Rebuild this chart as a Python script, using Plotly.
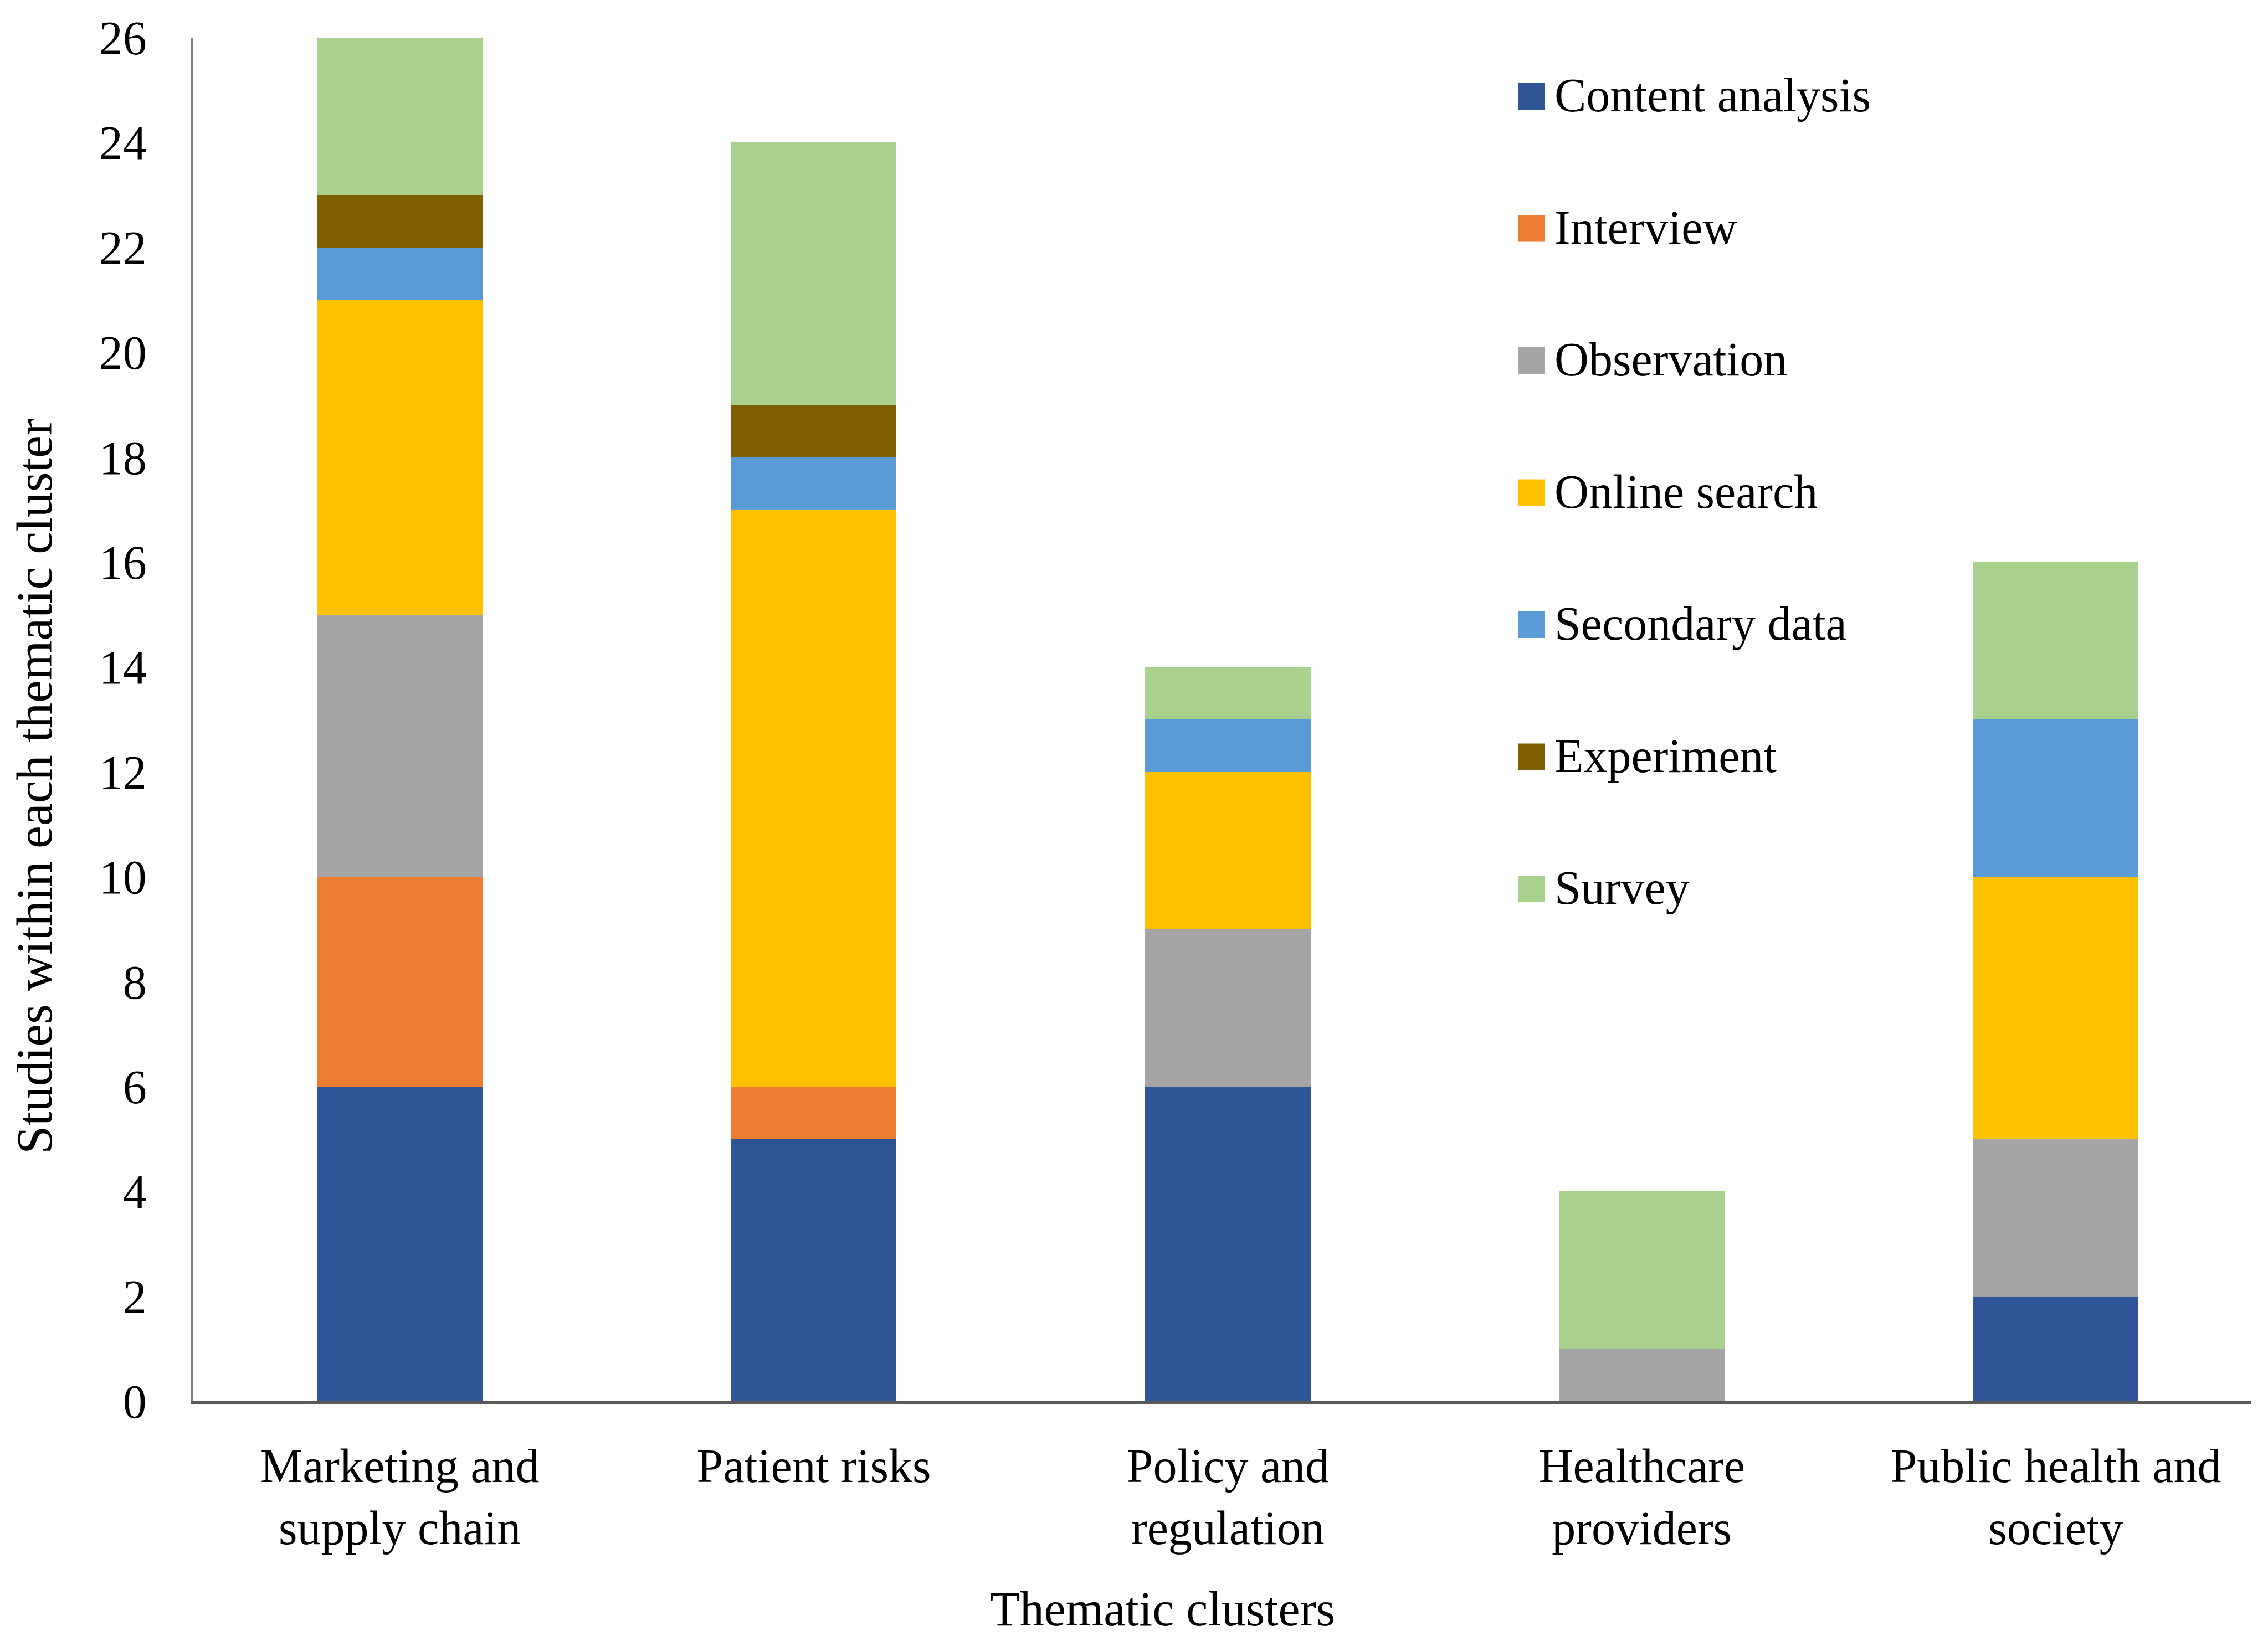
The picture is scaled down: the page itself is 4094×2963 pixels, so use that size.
import plotly.graph_objects as go

# ---- data ----
categories = ["Marketing and<br>supply chain", "Patient risks", "Policy and<br>regulation",
              "Healthcare<br>providers", "Public health and<br>society"]
methods = ["Content analysis", "Interview", "Observation", "Online search",
           "Secondary data", "Experiment", "Survey"]
content_analysis = [6, 5, 6, 0, 2]
interview = [4, 1, 0, 0, 0]
observation = [5, 0, 3, 1, 3]
online_search = [6, 11, 3, 0, 5]
secondary_data = [1, 1, 1, 0, 3]
experiment = [1, 1, 0, 0, 0]
survey = [3, 5, 1, 3, 3]
series = [content_analysis, interview, observation, online_search,
          secondary_data, experiment, survey]
colors = ["#2F5597", "#ED7D31", "#A5A5A5", "#FFC000", "#5B9BD5", "#7F6000", "#A9D18E"]
y_ticks = list(range(0, 27, 2))

# ---- layout constants (page pixels) ----
OFF = 8  # default page body margin
W, H = 4094 - OFF, 2963 - OFF
L, R, T, B = 348, 4063, 68, 2530  # plot area in page pixels
FONT = "Palatino Linotype, Book Antiqua, Palatino, Liberation Serif, serif"
FS = 86


def px_x(p):
    return (p - L) / (R - L)


def px_y(p):
    return (B - p) / (B - T)


fig = go.Figure()
for name, vals, col in zip(methods, series, colors):
    fig.add_trace(go.Bar(x=categories, y=vals, name=name,
                         marker=dict(color=col, line=dict(width=0)),
                         showlegend=False))

# legend drawn manually (large square swatches)
shapes = []
annotations = []
leg_y0 = 174
leg_step = 238.5
for i, (name, col) in enumerate(zip(methods, colors)):
    cy = leg_y0 + i * leg_step
    shapes.append(dict(type="rect", xref="paper", yref="paper",
                       x0=px_x(2740), x1=px_x(2788),
                       y0=px_y(cy + 24), y1=px_y(cy - 24),
                       fillcolor=col, line=dict(width=0)))
    annotations.append(dict(text=name, xref="paper", yref="paper",
                            x=px_x(2804), y=px_y(cy - 2), xanchor="left", yanchor="middle",
                            showarrow=False, font=dict(family=FONT, size=FS, color="#000000")))

# axis titles
annotations.append(dict(text="Thematic clusters", xref="paper", yref="paper",
                        x=px_x(2098), y=px_y(2905), xanchor="center", yanchor="middle",
                        showarrow=False, font=dict(family=FONT, size=FS + 2, color="#000000")))
annotations.append(dict(text="Studies within each thematic cluster", xref="paper", yref="paper",
                        x=px_x(62), y=px_y(1420), xanchor="center", yanchor="middle",
                        textangle=-90, showarrow=False,
                        font=dict(family=FONT, size=FS + 6, color="#000000")))

fig.update_layout(
    width=W, height=H,
    margin=dict(l=L - OFF, r=W - (R - OFF), t=T - OFF, b=H - (B - OFF), pad=0),
    barmode="stack",
    bargap=0.6,
    paper_bgcolor="white", plot_bgcolor="white",
    font=dict(family=FONT, size=FS, color="#000000"),
    shapes=shapes,
    annotations=annotations,
    showlegend=False,
)
fig.update_xaxes(
    showgrid=False, zeroline=False,
    showline=True, linecolor="#595959", linewidth=5,
    ticks="", ticklabelstandoff=38,
    tickfont=dict(family=FONT, size=FS, color="#000000"),
    range=[-0.5, 4.471],
)
fig.update_yaxes(
    range=[0, 26], tickvals=y_ticks, ticktext=[str(v) for v in y_ticks],
    showgrid=False, zeroline=False,
    showline=True, linecolor="#808080", linewidth=4,
    ticks="", ticklabelstandoff=62,
    tickfont=dict(family=FONT, size=FS, color="#000000"),
)

fig.write_html("out.html")
